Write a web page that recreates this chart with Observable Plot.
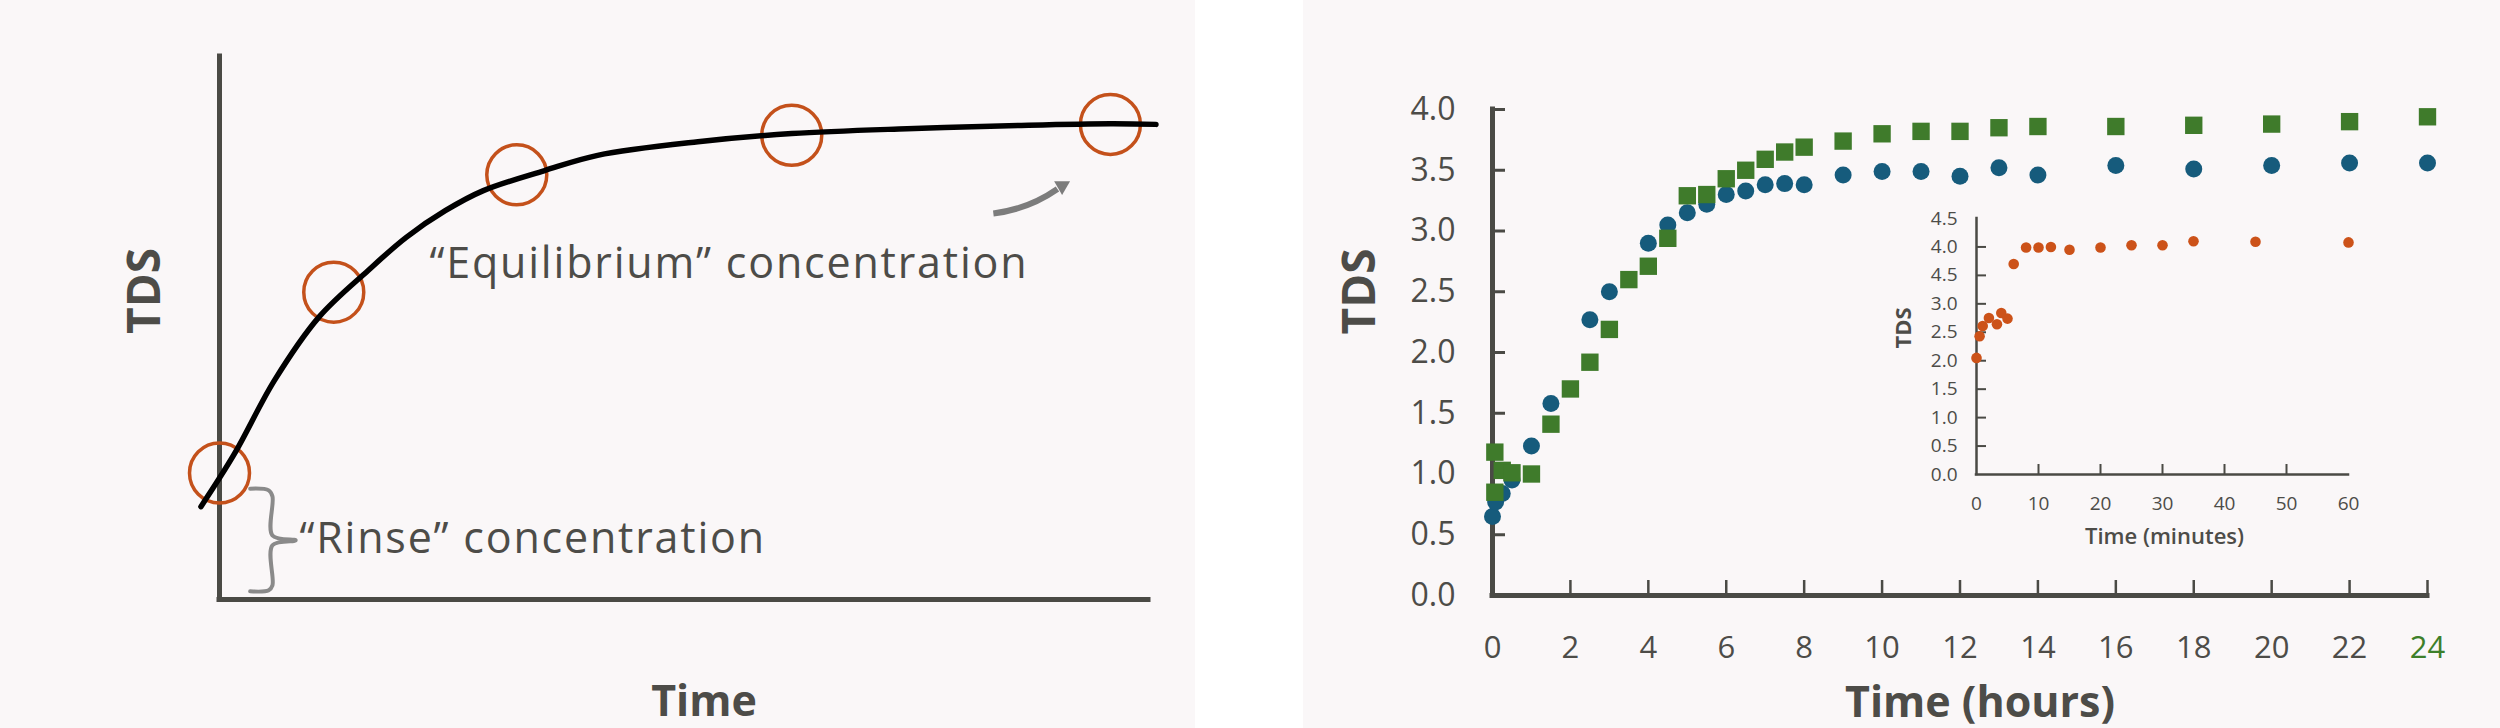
<!DOCTYPE html>
<html>
<head>
<meta charset="utf-8">
<script src="https://cdn.jsdelivr.net/npm/d3@7"></script>
<script src="https://cdn.jsdelivr.net/npm/@observablehq/plot@0.6"></script>
<style>
  html, body { margin: 0; padding: 0; background: #ffffff; }
  #wrap { position: relative; width: 2500px; height: 728px; overflow: hidden; background: #ffffff; }
  .panel { position: absolute; top: 0; }
</style>
</head>
<body>
<div id="wrap">
  <div id="left" class="panel" style="left:0px;width:1195px;height:728px"></div>
  <div id="right" class="panel" style="left:1303px;width:1197px;height:728px"></div>
  <div id="inset" class="panel" style="left:1880px;top:190px;width:520px;height:370px"></div>
</div>
<script>
// ---------- data: left schematic (arbitrary units 0-100) ----------
const schematicCurveX = [-2.0, 1.6, 5.9, 10.7, 16.0, 20.1, 24.3, 28.4, 35.0, 40.7, 51.5, 61.6, 74.0, 86.3, 95.9, 100.8];
const schematicCurveY = [17.1, 26.8, 40.3, 52.0, 60.6, 66.7, 71.6, 75.3, 79.0, 81.8, 84.3, 85.8, 86.7, 87.3, 87.6, 87.5];
const sampleX = [0, 12.3, 32.0, 61.6, 95.9];
const sampleY = [23.3, 56.6, 78.2, 85.5, 87.5];
const bracketX = [3.3, 5.3, 5.7, 5.7, 8.2, 5.7, 5.7, 5.3, 3.3];
const bracketY = [20.4, 20.1, 19.0, 11.8, 10.9, 10.0, 2.6, 1.7, 1.5];
const noteText = ["\u201CEquilibrium\u201D concentration", "\u201CRinse\u201D concentration"];
const noteX = [22.6, 8.6];
const noteY = [59.3, 8.5];
const arrowFrom = [83.3, 71.1];
const arrowTo = [90.2, 75.6];
const arrowHead = [90.7, 76.2];

// ---------- data: main chart (hours, TDS) ----------
const blueHours = [0, 0.08, 0.25, 0.5, 1, 1.5, 2.5, 3, 4, 4.5, 5, 5.5, 6, 6.5, 7, 7.5, 8, 9, 10, 11, 12, 13, 14, 16, 18, 20, 22, 24];
const blueTDS   = [0.65, 0.77, 0.84, 0.95, 1.23, 1.58, 2.27, 2.50, 2.90, 3.05, 3.15, 3.22, 3.30, 3.33, 3.38, 3.39, 3.38, 3.46, 3.49, 3.49, 3.45, 3.52, 3.46, 3.54, 3.51, 3.54, 3.56, 3.56];
const greenHours = [0.06, 0.06, 0.25, 0.5, 1, 1.5, 2, 2.5, 3, 3.5, 4, 4.5, 5, 5.5, 6, 6.5, 7, 7.5, 8, 9, 10, 11, 12, 13, 14, 16, 18, 20, 22, 24];
const greenTDS   = [1.18, 0.85, 1.03, 1.01, 1.00, 1.41, 1.70, 1.92, 2.19, 2.60, 2.71, 2.94, 3.29, 3.30, 3.43, 3.50, 3.59, 3.65, 3.69, 3.74, 3.80, 3.82, 3.82, 3.85, 3.86, 3.86, 3.87, 3.88, 3.90, 3.94];
const hourTicks = [0, 2, 4, 6, 8, 10, 12, 14, 16, 18, 20, 22, 24];
const tdsTicks = [0, 0.5, 1.0, 1.5, 2.0, 2.5, 3.0, 3.5, 4.0];

// ---------- data: inset (minutes, TDS) ----------
const insetMinutes = [0, 0.5, 1, 2, 3.3, 4, 5, 6, 8, 10, 12, 15, 20, 25, 30, 35, 45, 60];
const insetTDS     = [2.05, 2.43, 2.61, 2.75, 2.64, 2.84, 2.74, 3.70, 3.99, 3.99, 4.00, 3.95, 3.99, 4.03, 4.03, 4.10, 4.09, 4.08];
const minuteTicks = [0, 10, 20, 30, 40, 50, 60];
const insetTdsTicks = [0, 0.5, 1.0, 1.5, 2.0, 2.5, 3.0, 3.5, 4.0, 4.5];
const insetTdsLabels = ["0.0", "0.5", "1.0", "1.5", "2.0", "2.5", "3.0", "4.5", "4.0", "4.5"];

// ---------- styling ----------
const FONT = "'Open Sans', Lato, sans-serif";
const BG = "#faf7f8";
const AXIS = "#4a4a45";
const TEXT = "#4d4c48";
const ORANGE = "#c4511b";
const BLUE = "#165b7c";
const GREEN = "#3f7b2b";
const GREEN_LABEL = "#3d7f2a";
const INSET_DOT = "#cc5219";
const ARROW = "#7c7c7c";

// ---------- left schematic ----------
const curve = schematicCurveX.map((x, i) => ({x, y: schematicCurveY[i]}));
const samples = sampleX.map((x, i) => ({x, y: sampleY[i]}));
const bracket = bracketX.map((x, i) => ({x, y: bracketY[i]}));
const notes = noteText.map((t, i) => ({text: t, x: noteX[i], y: noteY[i]}));
const arrows = [{x1: arrowFrom[0], y1: arrowFrom[1], x2: arrowTo[0], y2: arrowTo[1]}];
const heads = [{x: arrowHead[0], y: arrowHead[1]}];

const leftPlot = Plot.plot({
  width: 1195, height: 728,
  marginLeft: 219, marginRight: 47, marginTop: 56, marginBottom: 129,
  x: {domain: [0, 100], axis: null},
  y: {domain: [0, 100], axis: null},
  style: {background: BG, fontFamily: FONT, overflow: "visible"},
  marks: [
    Plot.ruleX([0], {y1: 0, y2: 100, stroke: AXIS, strokeWidth: 5, strokeLinecap: "square"}),
    Plot.ruleY([0], {x1: 0, x2: 100, stroke: AXIS, strokeWidth: 5, strokeLinecap: "square"}),
    Plot.line(bracket, {x: "x", y: "y", stroke: "#8a8a8a", strokeWidth: 4, curve: "catmull-rom"}),
    Plot.dot(samples, {x: "x", y: "y", r: 30, stroke: ORANGE, strokeWidth: 3.5, fill: "none"}),
    Plot.line(curve, {x: "x", y: "y", stroke: "#000000", strokeWidth: 5.5, curve: "catmull-rom"}),
    Plot.arrow(arrows, {x1: "x1", y1: "y1", x2: "x2", y2: "y2", bend: -14, stroke: ARROW, strokeWidth: 6, headLength: 0, strokeLinecap: "butt"}),
    Plot.dot(heads, {x: "x", y: "y", symbol: "triangle2", r: 7.6, rotate: 60, fill: ARROW}),
    Plot.text(notes, {x: "x", y: "y", text: "text", textAnchor: "start", lineAnchor: "bottom", fontSize: 43, fill: TEXT}),
    Plot.text(["TDS"], {text: d => d, frameAnchor: "left", dx: -74, dy: 6, rotate: -90, fontSize: 46, fontWeight: 700, fill: TEXT}),
    Plot.text(["Time"], {text: d => d, frameAnchor: "bottom", dx: 20, dy: 116, lineAnchor: "bottom", fontSize: 43, fontWeight: 700, fill: TEXT})
  ]
});
d3.select(leftPlot).selectAll("text")
  .filter(function () { return this.textContent.indexOf("concentration") >= 0; })
  .style("letter-spacing", "1.8px");
document.getElementById("left").append(leftPlot);

// ---------- main chart ----------
const blue = blueHours.map((h, i) => ({h, v: blueTDS[i]}));
const green = greenHours.map((h, i) => ({h, v: greenTDS[i]}));
const mW = 1197, mH = 728, mL = 189, mR = 73, mT = 109, mB = 133;
const frameW = mW - mL - mR, frameH = mH - mT - mB;

const mainPlot = Plot.plot({
  width: mW, height: mH,
  marginLeft: mL, marginRight: mR, marginTop: mT, marginBottom: mB,
  x: {domain: [0, 24]},
  y: {domain: [0, 4]},
  style: {background: BG, fontFamily: FONT, overflow: "visible"},
  marks: [
    Plot.tickX(hourTicks.filter(t => t > 0), {x: d => d, insetTop: frameH - 15, stroke: AXIS, strokeWidth: 2.5}),
    Plot.tickY(tdsTicks.filter(t => t > 0), {y: d => d, insetRight: frameW - 13, stroke: AXIS, strokeWidth: 3}),
    Plot.ruleX([0], {y1: 0, y2: 4, stroke: AXIS, strokeWidth: 5, strokeLinecap: "square"}),
    Plot.ruleY([0], {x1: 0, x2: 24, stroke: AXIS, strokeWidth: 5, strokeLinecap: "square"}),
    Plot.axisX(hourTicks.filter(t => t !== 24), {tickSize: 0, tickPadding: 40, fontSize: 31, fill: TEXT, label: null, tickFormat: d => String(d)}),
    Plot.axisX([24], {tickSize: 0, tickPadding: 40, fontSize: 31, fill: GREEN_LABEL, label: null, tickFormat: d => String(d)}),
    Plot.axisY(tdsTicks, {tickSize: 0, tickPadding: 37, fontSize: 32, fill: TEXT, label: null, tickFormat: d => d.toFixed(1)}),
    Plot.dot(blue, {x: "h", y: "v", r: 8.5, fill: BLUE}),
    Plot.dot(green, {x: "h", y: "v", r: 9.8, symbol: "square", fill: GREEN}),
    Plot.text(["TDS"], {text: d => d, frameAnchor: "left", dx: -132, dy: -18, rotate: -90, fontSize: 46, fontWeight: 700, fill: TEXT}),
    Plot.text(["Time (hours)"], {text: d => d, frameAnchor: "bottom", dx: 20, dy: 121, lineAnchor: "bottom", fontSize: 43, fontWeight: 700, fill: TEXT})
  ]
});
document.getElementById("right").append(mainPlot);

// ---------- inset ----------
const inset = insetMinutes.map((m, i) => ({m, v: insetTDS[i]}));
const iW = 520, iH = 370, iL = 96, iR = 52, iT = 28, iB = 86;
const iFW = iW - iL - iR, iFH = iH - iT - iB;

const insetPlot = Plot.plot({
  width: iW, height: iH,
  marginLeft: iL, marginRight: iR, marginTop: iT, marginBottom: iB,
  x: {domain: [0, 60]},
  y: {domain: [0, 4.5]},
  style: {background: "transparent", fontFamily: FONT, overflow: "visible"},
  marks: [
    Plot.tickX(minuteTicks.filter(t => t > 0 && t < 60), {x: d => d, insetTop: iFH - 10, stroke: AXIS, strokeWidth: 2}),
    Plot.tickY(insetTdsTicks.filter(t => t > 0 && t < 4.5), {y: d => d, insetRight: iFW - 10, stroke: AXIS, strokeWidth: 2}),
    Plot.ruleX([0], {y1: 0, y2: 4.5, stroke: AXIS, strokeWidth: 2.5, strokeLinecap: "square"}),
    Plot.ruleY([0], {x1: 0, x2: 60, stroke: AXIS, strokeWidth: 2.5, strokeLinecap: "square"}),
    Plot.axisX(minuteTicks, {tickSize: 0, tickPadding: 22, fontSize: 19, fill: TEXT, label: null, tickFormat: d => String(d)}),
    Plot.axisY(insetTdsTicks, {tickSize: 0, tickPadding: 19, fontSize: 19, fill: TEXT, label: null, tickFormat: d => insetTdsLabels[insetTdsTicks.indexOf(d)]}),
    Plot.dot(inset, {x: "m", y: "v", r: 5.3, fill: INSET_DOT}),
    Plot.text(["TDS"], {text: d => d, frameAnchor: "left", dx: -73, dy: 2, rotate: -90, fontSize: 22, fontWeight: 700, fill: TEXT}),
    Plot.text(["Time (minutes)"], {text: d => d, frameAnchor: "bottom", dx: 2, dy: 69, lineAnchor: "bottom", fontSize: 22, fontWeight: 600, fill: TEXT})
  ]
});
document.getElementById("inset").append(insetPlot);
</script>
</body>
</html>
